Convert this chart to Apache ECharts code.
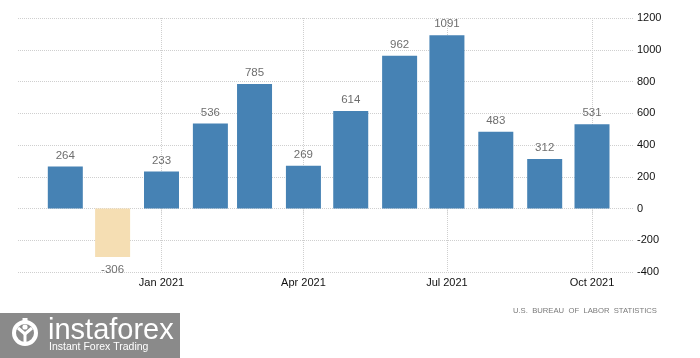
<!DOCTYPE html>
<html>
<head>
<meta charset="utf-8">
<script src="https://cdn.jsdelivr.net/npm/echarts@6/dist/echarts.min.js"></script>
<style>
html,body{margin:0;padding:0;background:#fff;}
#chart{width:700px;height:358px;}
</style>
</head>
<body>
<div id="chart"></div>
<script>
const months = ['2020-11-01','2020-12-01','2021-01-01','2021-02-01','2021-03-01','2021-04-01','2021-05-01','2021-06-01','2021-07-01','2021-08-01','2021-09-01','2021-10-01'];
const values = [264,-306,233,536,785,269,614,962,1091,483,312,531];
const xTickDates = ['2021-01-01','2021-04-01','2021-07-01','2021-10-01'];
const xRange = ['2020-10-02','2021-10-27'];
const yMin = -400, yMax = 1200, yStep = 200;
const monthNames = ['Jan','Feb','Mar','Apr','May','Jun','Jul','Aug','Sep','Oct','Nov','Dec'];
const sourceText = 'U.S.  BUREAU  OF  LABOR  STATISTICS';
const logoTitle = 'instaforex';
const logoSub = 'Instant Forex Trading';

const ts = s => Date.parse(s);
const chart = echarts.init(document.getElementById('chart'), null, {renderer:'canvas'});

const gridLine = {show:true, lineStyle:{color:'#cfcfcf', type:[1,1], width:1}};

const teeth = [];
for (let i = 0; i < 8; i++) {
  teeth.push({
    type:'rect', x:25, y:333, originX:25, originY:333, rotation: i*Math.PI/4,
    shape:{x:-2.5, y:-15, width:5, height:5}, style:{fill:'#fff'}, silent:true
  });
}
const xTicks = xTickDates.map(ts);

chart.setOption({
  animation:false,
  backgroundColor:'#fff',
  grid:{left:18, right:67, top:18, bottom:86},
  xAxis:{
    type:'value',
    min:ts(xRange[0]),
    max:ts(xRange[1]),
    axisLine:{show:false},
    axisTick:{show:true, length:6, customValues:xTicks, lineStyle:{color:'#cfcfcf', type:[1,1]}},
    splitLine:gridLine,
    axisLabel:{
      customValues:xTicks,
      color:'#111', fontFamily:'Liberation Sans', fontSize:11, margin:5,
      formatter:function(v){const d=new Date(v); return monthNames[d.getUTCMonth()]+' '+d.getUTCFullYear();}
    }
  },
  yAxis:{
    type:'value', position:'right', min:yMin, max:yMax, interval:yStep,
    axisLine:{show:false}, axisTick:{show:false},
    splitLine:gridLine,
    axisLabel:{color:'#111', fontFamily:'Liberation Sans', fontSize:11, margin:4, formatter:v=>String(v)}
  },
  series:[{
    type:'bar',
    barWidth:35,
    data: months.map((m,i)=>({
      value:[ts(m), values[i]],
      itemStyle:{color: values[i] < 0 ? '#F5DEB3' : '#4682B4'},
      label:{position: values[i] < 0 ? 'bottom' : 'top', distance: values[i] < 0 ? 7 : 5}
    })),
    label:{show:true, color:'#6e6e6e', fontFamily:'Liberation Sans', fontSize:11.5,
      formatter:p=>p.value[1]}
  }],
  graphic:[
    {type:'text', right:43, top:307, style:{text:sourceText, fill:'#7a7a7a', font:'7.7px "Liberation Sans"'}, silent:true},
    {type:'rect', shape:{x:0, y:313, width:180, height:45}, style:{fill:'#8a8a8a'}, silent:true},
    {type:'circle', shape:{cx:25, cy:333, r:11}, style:{fill:'none', stroke:'#fff', lineWidth:4}, silent:true},
    ...teeth,
    {type:'circle', shape:{cx:25, cy:327, r:2.6}, style:{fill:'#fff'}, silent:true},
    {type:'polyline', shape:{points:[[18,328],[25,334],[32,328]]}, style:{stroke:'#fff', lineWidth:3, fill:'none'}, silent:true},
    {type:'rect', shape:{x:23.5, y:333, width:3, height:10}, style:{fill:'#fff'}, silent:true},
    {type:'text', x:48, y:316, style:{text:logoTitle, fill:'#fff', font:'29px "Liberation Sans"'}, silent:true},
    {type:'text', x:49, y:342, style:{text:logoSub, fill:'#fff', font:'10.5px "Liberation Sans"'}, silent:true}
  ]
});
</script>
</body>
</html>
